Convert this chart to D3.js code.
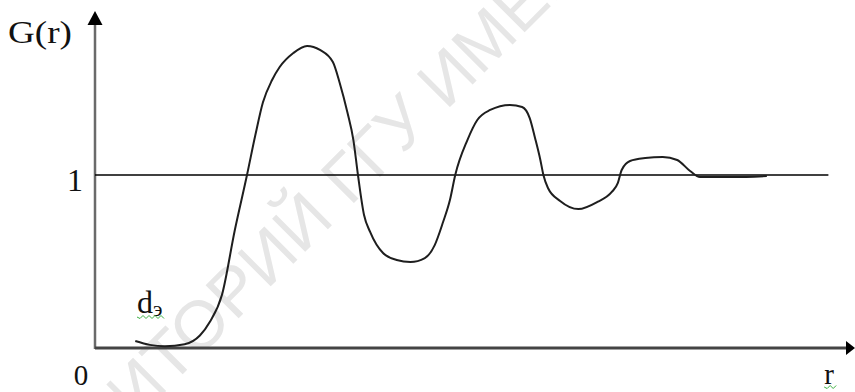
<!DOCTYPE html>
<html>
<head>
<meta charset="utf-8">
<script src="https://cdn.jsdelivr.net/npm/d3@7"></script>
<style>
  html, body { margin: 0; padding: 0; background: #fff; }
  svg { display: block; }
</style>
</head>
<body>
<svg id="chart" width="855" height="392"></svg>
<script>
// ---- data ----
const rValues = [0.53, 0.72, 0.92, 1.18, 1.38, 1.51, 1.67, 1.84, 2.00, 2.11, 2.21, 2.33, 2.43, 2.61, 2.79, 2.96, 3.13, 3.22, 3.32, 3.40, 3.46, 3.54, 3.62, 3.79, 3.97, 4.15, 4.34, 4.47, 4.58, 4.67, 4.74, 4.90, 5.03, 5.20, 5.46, 5.62, 5.72, 5.79, 5.86, 5.90, 5.96, 6.12, 6.36, 6.61, 6.80, 6.88, 6.93, 7.04, 7.24, 7.47, 7.66, 7.83, 7.96, 8.40, 8.84];
const gValues = [0.040, 0.018, 0.010, 0.022, 0.072, 0.150, 0.306, 0.682, 1.000, 1.231, 1.420, 1.549, 1.624, 1.705, 1.746, 1.723, 1.653, 1.532, 1.364, 1.202, 1.000, 0.769, 0.671, 0.549, 0.509, 0.497, 0.520, 0.595, 0.728, 0.855, 1.000, 1.202, 1.318, 1.376, 1.405, 1.393, 1.329, 1.214, 1.087, 1.000, 0.925, 0.850, 0.803, 0.844, 0.902, 0.954, 1.029, 1.081, 1.098, 1.104, 1.087, 1.023, 0.988, 0.988, 0.994];
const rDomain = [0, 10];
const refLevel = 1;
const refLineEnd = 9.65;
const yTickLabels = ["0", "1"];
const axisLabels = { y: "G(r)", x: "r", d: "d", dSub: "э" };
const watermark = ["РЕПОЗИТОРИЙ", "ГГУ ИМЕНИ Ф. СКОРИНЫ"];

// ---- scales ----
const svg = d3.select("#chart");
const x = d3.scaleLinear().domain(rDomain).range([95, 855]);
const y = d3.scaleLinear().domain([0, 1]).range([348, 175]);

// ---- watermark ----
const wm = svg.append("g")
  .attr("transform", "translate(343,214) rotate(-45)")
  .attr("fill", "#e6e6e6")
  .style("font-family", "'Liberation Sans', Arial, sans-serif")
  .style("font-size", "68px");
wm.append("text").attr("x", -10).attr("text-anchor", "end").text(watermark[0]);
wm.append("text").attr("x", 10).attr("text-anchor", "start").text(watermark[1]);

// ---- axes ----
svg.append("line")
  .attr("x1", x(0)).attr("x2", x(0))
  .attr("y1", y(0) + 1).attr("y2", 22)
  .attr("stroke", "#6a6a6a").attr("stroke-width", 2.5);
svg.append("path")
  .attr("d", d3.line()([[x(0) - 7.5, 25], [x(0), 11], [x(0) + 7.5, 25]]) + "Z")
  .attr("fill", "#000");

svg.append("line")
  .attr("x1", x(0)).attr("x2", 848)
  .attr("y1", y(0)).attr("y2", y(0))
  .attr("stroke", "#444").attr("stroke-width", 3);
svg.append("path")
  .attr("d", d3.line()([[846, y(0) - 7], [855, y(0)], [846, y(0) + 7]]) + "Z")
  .attr("fill", "#000");

// ---- reference line at G = 1 ----
svg.append("line")
  .attr("x1", x(0)).attr("x2", x(refLineEnd))
  .attr("y1", y(refLevel)).attr("y2", y(refLevel))
  .attr("stroke", "#000").attr("stroke-width", 1.6);

// ---- curve ----
const pts = rValues.map((r, i) => [r, gValues[i]]);
svg.append("path")
  .datum(pts)
  .attr("fill", "none")
  .attr("stroke", "#1e1e1e")
  .attr("stroke-width", 2)
  .attr("stroke-linejoin", "round")
  .attr("d", d3.line().x(d => x(d[0])).y(d => y(d[1])).curve(d3.curveMonotoneX));

// ---- texts ----
const serif = "'Liberation Serif', 'Times New Roman', serif";
svg.append("text")
  .attr("x", 8).attr("y", 43)
  .attr("textLength", 64).attr("lengthAdjust", "spacingAndGlyphs")
  .style("font-family", serif).style("font-size", "32px").attr("fill", "#111")
  .text(axisLabels.y);
svg.append("text")
  .attr("x", 75).attr("y", 191).attr("text-anchor", "middle")
  .style("font-family", serif).style("font-size", "32px").attr("fill", "#111")
  .text(yTickLabels[1]);
svg.append("text")
  .attr("x", 81).attr("y", 385).attr("text-anchor", "middle")
  .style("font-family", serif).style("font-size", "29px").attr("fill", "#111")
  .text(yTickLabels[0]);
const rLab = svg.append("text")
  .attr("x", 829).attr("y", 384).attr("text-anchor", "middle")
  .style("font-family", serif).style("font-size", "29px").attr("fill", "#111")
  .text(axisLabels.x);
const dLab = svg.append("text")
  .attr("x", 137).attr("y", 313)
  .style("font-family", serif).style("font-size", "32px").attr("fill", "#111");
dLab.append("tspan").text(axisLabels.d);
dLab.append("tspan").attr("dy", 3).style("font-size", "22px").text(axisLabels.dSub);

// spell-check wavy underlines
function wavy(bb, yOff) {
  const p = d3.path();
  const y0 = bb.y + bb.height + yOff;
  p.moveTo(bb.x, y0);
  for (let xx = bb.x, k = 0; xx < bb.x + bb.width; xx += 3, k++) {
    p.lineTo(xx + 3, y0 + (k % 2 ? -1.5 : 1.5));
  }
  svg.append("path").attr("d", p.toString()).attr("fill", "none")
    .attr("stroke", "#3cb043").attr("stroke-width", 1);
}
wavy(dLab.node().getBBox(), -4);
wavy(rLab.node().getBBox(), -3);
</script>
</body>
</html>
